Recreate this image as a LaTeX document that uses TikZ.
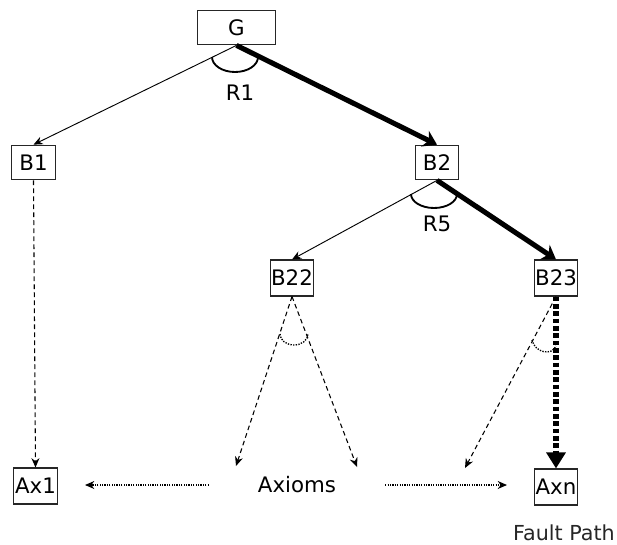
\documentclass[tikz,border=0pt]{standalone}
\usepackage{fontspec}
\setmainfont{DejaVu Sans}
\usetikzlibrary{arrows.meta}
\tikzset{
    box/.style={draw=black!85, line width=0.8pt, inner sep=0pt, minimum width=32.5pt, minimum height=27pt, font=\fontsize{16}{19}\selectfont},
    lbl/.style={inner sep=0pt, font=\fontsize{16}{19}\selectfont},
    thinarrow/.style={line width=0.7pt, -{Stealth[length=7pt, width=6pt]}},
    thickarrow/.style={line width=3.8pt, -{Stealth[length=10pt, width=13pt]}},
    dasharrow/.style={line width=0.8pt, dash pattern=on 3.5pt off 2.5pt, -{Stealth[length=7pt, width=6pt]}},
    dotarrow/.style={line width=0.8pt, densely dotted, -{Stealth[length=7pt, width=6pt]}},
}
\begin{document}
\begin{tikzpicture}[x=0.75pt, y=-0.75pt]
            \useasboundingbox (0, 0) rectangle (617, 544);
            %\draw[lightgray] (0, 0) grid[step=50] (617, 544);
            \node[box, minimum width=59pt, minimum height=26pt] (G) at (236.5, 27.5) {G};
            \node[box, minimum height=26pt] (B1) at (33.5, 162.5) {B1};
            \node[box, minimum height=26pt] (B2) at (437, 162.5) {B2};
            \node[box] (B22) at (292, 278) {B22};
            \node[box] (B23) at (556, 278) {B23};
            \node[box] (Ax1) at (35.5, 486) {Ax1};
            \node[box] (Axn) at (556, 487) {Axn};
            \node[lbl, minimum width=132pt] (Axioms) at (297, 485) {Axioms};
            \node[lbl] (R1) at (240, 93) {R1};
            \node[lbl] (R5) at (437, 224) {R5};
            \node[inner sep=0pt, text=black!85, font=\fontsize{15.5}{18}\selectfont] (fault) at (564, 533) {Fault Path};
            \coordinate (a1) at (236, 466);
            \coordinate (a2) at (357, 467);
            \coordinate (a3) at (465, 468);
            \coordinate (l1) at (85, 485);
            \coordinate (l2) at (507, 485);
            % tree
            \draw[thinarrow] (G.south) -- (B1.north);
            \draw[thickarrow] (G.south) -- (B2.north);
            \draw[thinarrow] (B2.south) -- (B22.north);
            \draw[thickarrow] (B2.south) -- (B23.north);
            \draw[dasharrow] (B1.south) -- (Ax1.north);
            \draw[dasharrow] (B22.south) -- (a1);
            \draw[dasharrow] (B22.south) -- (a2);
            \draw[dasharrow] (B23.south) -- (a3);
            \draw[line width=4pt, dash pattern=on 3.5pt off 2pt, -{Triangle[length=12pt, width=14pt]}] (B23.south) -- (Axn.north);
            % rule arcs
            \draw[line width=1.4pt] (212, 57) arc[start angle=180, end angle=360, x radius=17.25pt, y radius=11.25pt];
            \draw[line width=1.4pt] (411, 194) arc[start angle=180, end angle=360, x radius=17.25pt, y radius=10.5pt];
            \draw[line width=1pt, densely dotted] (280, 334) arc[start angle=180, end angle=360, x radius=10.5pt, y radius=8.25pt];
            \draw[line width=1pt, densely dotted] (532, 340) .. controls (535, 353) and (552, 356) .. (556, 346);
            % axioms
            \draw[dotarrow] (Axioms.west) -- (l1);
            \draw[dotarrow] (Axioms.east) -- (l2);
        \end{tikzpicture}
\end{document}
